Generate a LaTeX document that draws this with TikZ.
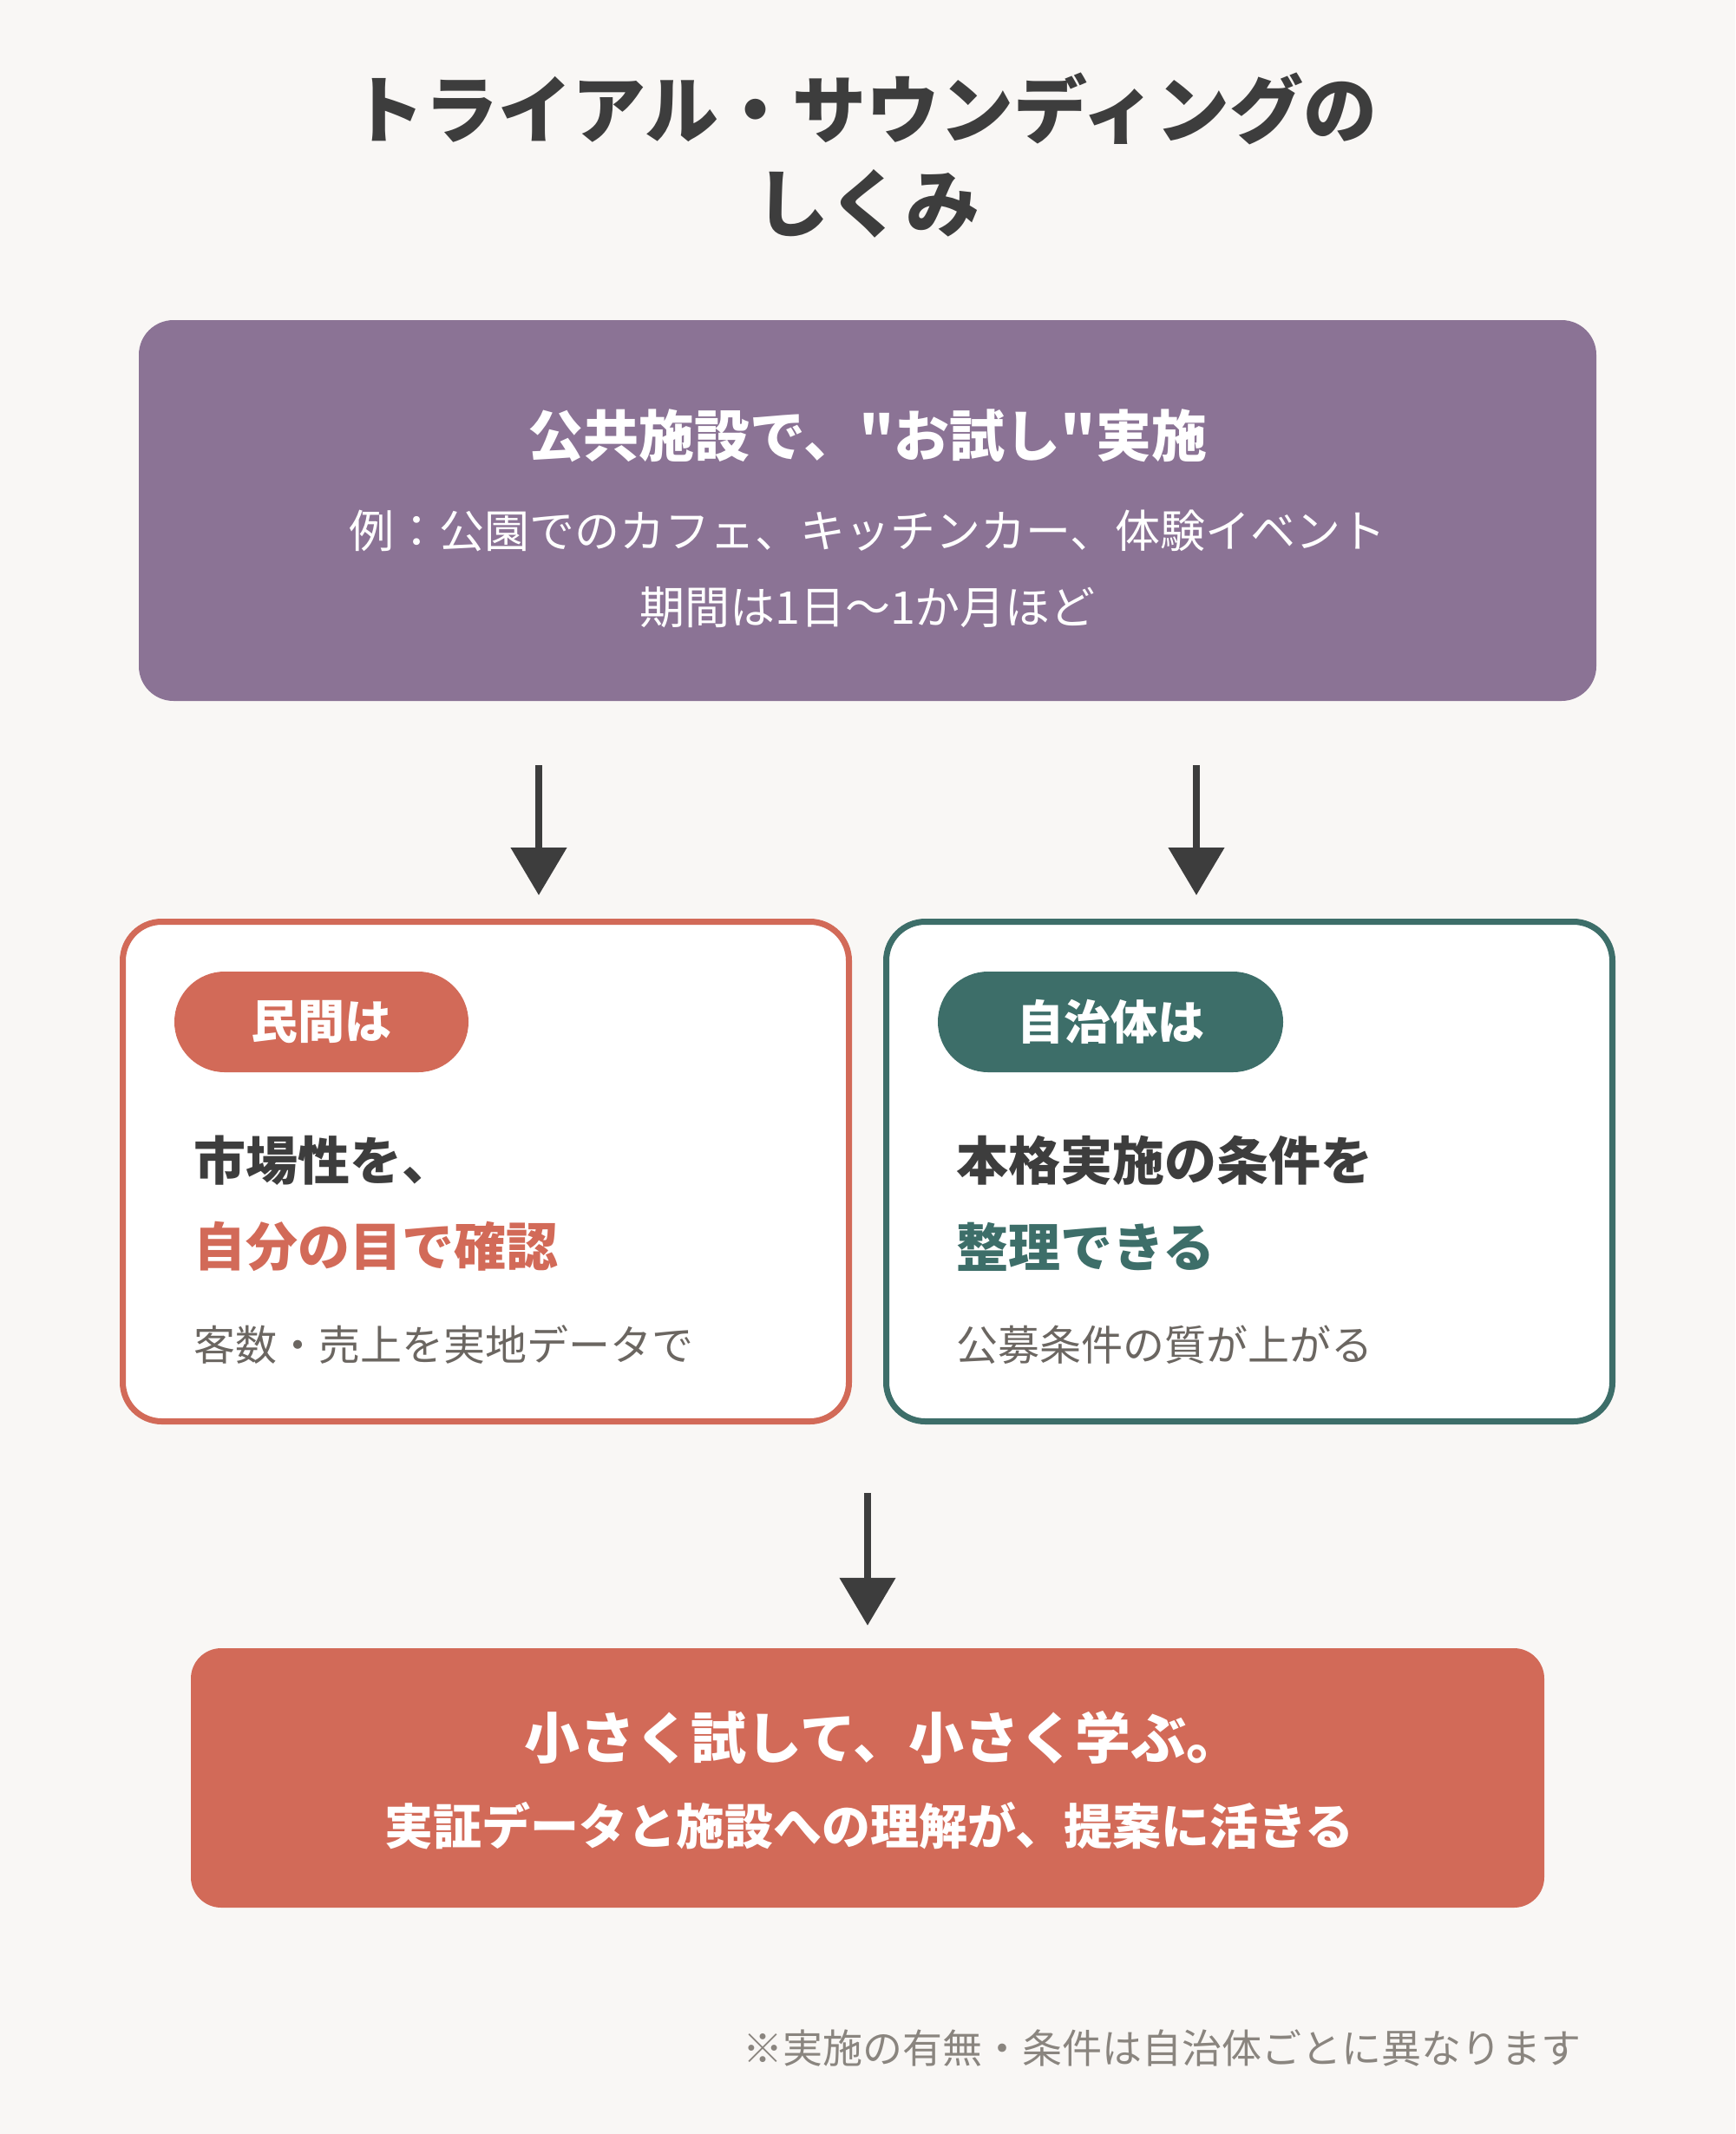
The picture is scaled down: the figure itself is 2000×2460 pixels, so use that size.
\documentclass[tikz,border=0pt]{standalone}
\usepackage{fontspec}
\setmainfont{Noto Sans CJK JP}[Ligatures=TeXOff]
\usetikzlibrary{arrows.meta}
\definecolor{bgc}{HTML}{F9F7F5}
\definecolor{ink}{HTML}{3D3D3D}
\definecolor{purp}{HTML}{8B7395}
\definecolor{redc}{HTML}{D26A58}
\definecolor{teal}{HTML}{3D6E69}
\definecolor{grayt}{HTML}{6B6661}
\definecolor{noteg}{HTML}{8A857F}
\newcommand{\fs}[1]{\fontsize{#1pt}{#1pt}\selectfont}
\tikzset{
  txt/.style={inner sep=0pt, outer sep=0pt},
  panel/.style={draw, line width=7pt, fill=white, rounded corners=45pt, minimum width=837pt, minimum height=576pt, inner sep=0pt},
  pill/.style={fill=#1, rounded corners=58pt, minimum height=116pt, inner sep=0pt, text=white, font=\fs{54}\bfseries},
  arr/.style={draw=ink, line width=8pt, -{Triangle[width=63pt,length=55pt]}},
}
\begin{document}
\begin{tikzpicture}[x=1pt,y=-1pt]
\useasboundingbox (0,0) rectangle (2000,2460);
\fill[bgc] (0,0) rectangle (2000,2460);

% title
\node[txt, text=ink, font=\fs{85}\bfseries] (t1) at (996,125) {トライアル・サウンディングの};
\node[txt, text=ink, font=\fs{85}\bfseries] (t2) at (1000,235) {しくみ};

% top box
\node[fill=purp, rounded corners=40pt, minimum width=1680pt, minimum height=439pt, inner sep=0pt] (top) at (1000,588.5) {};
\node[txt, text=white, font=\fs{64}\bfseries] (h1) at (1000,502) {公共施設で、"お試し"実施};
\node[txt, text=white, font=\fs{52}] (h2) at (1000,612) {例：公園でのカフェ、キッチンカー、体験イベント};
\node[txt, text=white, font=\fs{52}] (h3) at (1000,700) {期間は1日〜1か月ほど};

% panels
\node[panel, draw=redc] (left) at (560,1350.5) {};
\node[panel, draw=teal] (right) at (1440,1350.5) {};

\node[pill=redc, minimum width=339pt] (p1) at (370.5,1178) {民間は};
\node[pill=teal, minimum width=398pt] (p2) at (1280,1178) {自治体は};

\node[txt, anchor=west, text=ink, font=\fs{60}\bfseries] (l1) at (223,1338) {市場性を、};
\node[txt, anchor=west, text=redc, font=\fs{60}\bfseries] (l2) at (223,1437) {自分の目で確認};
\node[txt, anchor=west, text=grayt, font=\fs{48}] (l3) at (223,1550) {客数・売上を実地データで};

\node[txt, anchor=west, text=ink, font=\fs{60}\bfseries] (r1) at (1102,1338) {本格実施の条件を};
\node[txt, anchor=west, text=teal, font=\fs{60}\bfseries] (r2) at (1102,1437) {整理できる};
\node[txt, anchor=west, text=grayt, font=\fs{48}] (r3) at (1102,1550) {公募条件の質が上がる};

% bottom box
\node[fill=redc, rounded corners=35pt, minimum width=1560pt, minimum height=299pt, inner sep=0pt] (bot) at (1000,2049.5) {};
\node[txt, text=white, font=\fs{64}\bfseries] (b1) at (1018,2003) {小さく試して、小さく学ぶ。};
\node[txt, text=white, font=\fs{56}\bfseries] (b2) at (1002,2105) {実証データと施設への理解が、提案に活きる};

% footnote
\node[txt, anchor=east, text=noteg, font=\fs{46}] (note) at (1822,2361) {※実施の有無・条件は自治体ごとに異なります};

% arrows
\coordinate (ax1) at (621,0);
\coordinate (ax2) at (1379,0);
\draw[arr, shorten <=74pt, shorten >=27pt] (top.south -| ax1) -- (left.north -| ax1);
\draw[arr, shorten <=74pt, shorten >=27pt] (top.south -| ax2) -- (right.north -| ax2);
\draw[arr, shorten <=79pt, shorten >=26pt] (left.south -| bot.north) -- (bot.north);
\end{tikzpicture}
\end{document}
